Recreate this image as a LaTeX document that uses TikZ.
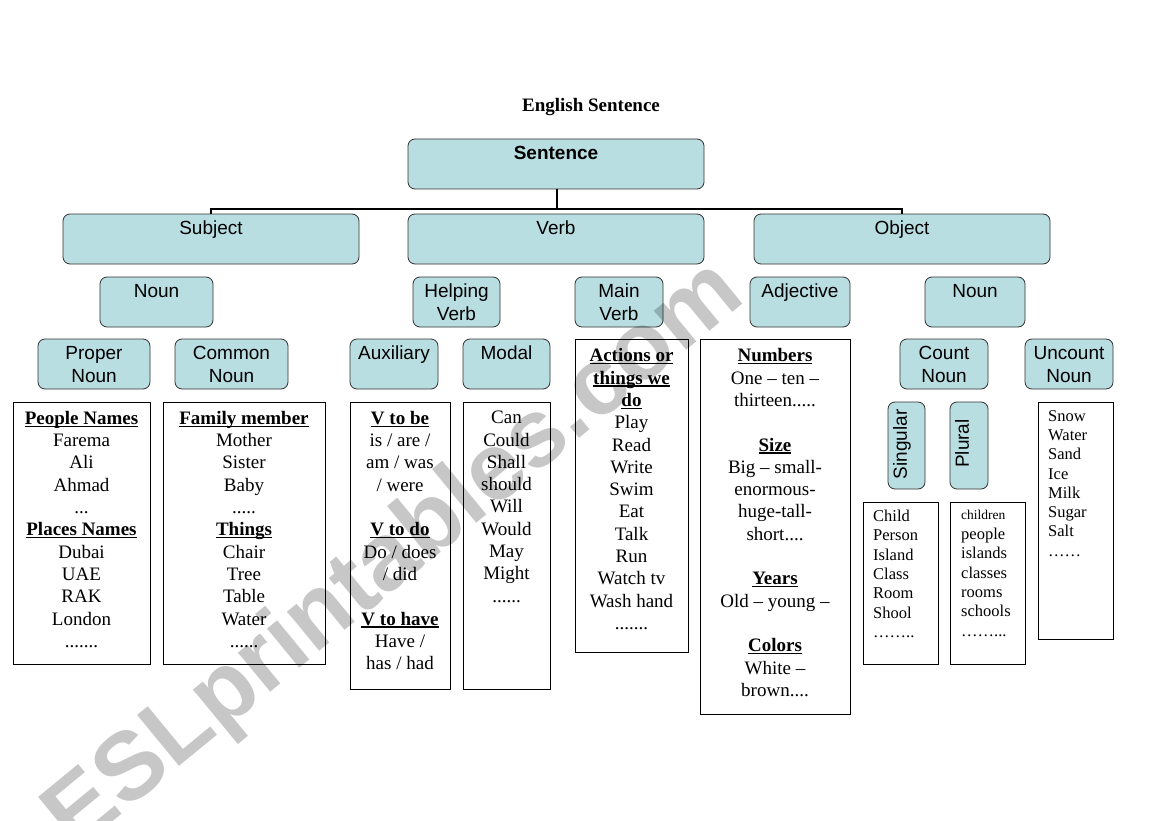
\documentclass[tikz,border=0pt]{standalone}
\usepackage{fontspec}
\setmainfont{Liberation Serif}
\setsansfont{Liberation Sans}
\definecolor{boxblue}{RGB}{185,222,226}
\definecolor{edge}{RGB}{50,50,50}
\newcommand\ulb[1]{\setbox0\hbox{#1}\rlap{\rule[-2.6pt]{\wd0}{1.3pt}}\box0}
\newcommand\mkbox[6]{\node[#1, minimum width={(#5)-(#3)}, minimum height={(#6)-(#4)}] (#2) at (#3,-#4) {};}
\tikzset{
  bluebox/.style={draw=edge, line width=0.8pt, fill=boxblue, rounded corners=7pt, inner sep=0pt, outer sep=0pt, anchor=north west},
  listbox/.style={draw=black, line width=0.8pt, inner sep=0pt, outer sep=0pt, anchor=north west},
  btext/.style={anchor=north, align=center, inner sep=0pt, font=\sffamily\fontsize{19}{23}\selectfont},
  ltext/.style={anchor=north, align=center, inner sep=0pt, font=\fontsize{19}{22.3}\selectfont},
  stext/.style={anchor=north west, align=left, inner sep=0pt, font=\fontsize{16.5}{19.3}\selectfont},
  rtext/.style={rotate=90, anchor=north, inner sep=0pt, font=\sffamily\fontsize{19}{23}\selectfont},
  conn/.style={line width=2.6pt, black},
  wmark/.style={rotate=39.4, inner sep=0pt, text=black, opacity=0.22, font=\sffamily\bfseries\fontsize{96}{96}\selectfont}
}
\begin{document}
\begin{tikzpicture}[x=1pt,y=1pt]
\useasboundingbox (0,0) rectangle (1169,-821);
\clip (0,0) rectangle (1169,-821);
\fill[white] (0,0) rectangle (1169,-821);

\node[inner sep=0pt, font=\bfseries\fontsize{19}{22}\selectfont] (title) at (591,-107) {English Sentence};

% blue boxes
\mkbox{bluebox}{sent}{408}{139}{704}{189}
\mkbox{bluebox}{subj}{63}{214}{359}{264}
\mkbox{bluebox}{verb}{408}{214}{704}{264}
\mkbox{bluebox}{obj}{754}{214}{1050}{264}
\mkbox{bluebox}{nounA}{100}{277}{213}{327}
\mkbox{bluebox}{help}{413}{277}{500}{327}
\mkbox{bluebox}{mainv}{575}{277}{663}{327}
\mkbox{bluebox}{adj}{750}{277}{850}{327}
\mkbox{bluebox}{nounB}{925}{277}{1025}{327}
\mkbox{bluebox}{proper}{38}{339}{150}{389}
\mkbox{bluebox}{common}{175}{339}{288}{389}
\mkbox{bluebox}{aux}{350}{339}{438}{389}
\mkbox{bluebox}{modal}{463}{339}{550}{389}
\mkbox{bluebox}{count}{900}{339}{988}{389}
\mkbox{bluebox}{uncount}{1025}{339}{1113}{389}
\mkbox{bluebox}{sing}{888}{402}{925}{489}
\mkbox{bluebox}{plur}{950}{402}{988}{489}

\node[btext] (sent-t) at ([yshift=-7pt]sent.north) {\bfseries Sentence};
\node[btext] (subj-t) at ([yshift=-7pt]subj.north) {Subject};
\node[btext] (verb-t) at ([yshift=-7pt]verb.north) {Verb};
\node[btext] (obj-t) at ([yshift=-7pt]obj.north) {Object};
\node[btext] (nounA-t) at ([yshift=-7pt]nounA.north) {Noun};
\node[btext] (help-t) at ([yshift=-7pt]help.north) {Helping\\Verb};
\node[btext] (mainv-t) at ([yshift=-7pt]mainv.north) {Main\\Verb};
\node[btext] (adj-t) at ([yshift=-7pt]adj.north) {Adjective};
\node[btext] (nounB-t) at ([yshift=-7pt]nounB.north) {Noun};
\node[btext] (proper-t) at ([yshift=-7pt]proper.north) {Proper\\Noun};
\node[btext] (common-t) at ([yshift=-7pt]common.north) {Common\\Noun};
\node[btext] (aux-t) at ([yshift=-7pt]aux.north) {Auxiliary};
\node[btext] (modal-t) at ([yshift=-7pt]modal.north) {Modal};
\node[btext] (count-t) at ([yshift=-7pt]count.north) {Count\\Noun};
\node[btext] (uncount-t) at ([yshift=-7pt]uncount.north) {Uncount\\Noun};
\node[rtext] (sing-t) at ([xshift=5pt,yshift=1pt]sing.west) {Singular};
\node[rtext] (plur-t) at ([xshift=5pt,yshift=2pt]plur.west) {Plural};

% connectors
\coordinate (hub) at (557,-209);
\draw[conn] (sent.south -| hub) -- (hub);
\draw[conn] (subj.north) -- (subj.north |- hub) -- (obj.north |- hub) -- (obj.north);

% list boxes
\mkbox{listbox}{people}{13}{402}{150}{664}
\mkbox{listbox}{family}{163}{402}{325}{664}
\mkbox{listbox}{tobe}{350}{402}{450}{689}
\mkbox{listbox}{modals}{463}{402}{550}{689}
\mkbox{listbox}{actions}{575}{339}{688}{652}
\mkbox{listbox}{numbers}{700}{339}{850}{714}
\mkbox{listbox}{childbox}{863}{502}{938}{664}
\mkbox{listbox}{pluralbox}{950}{502}{1025}{664}
\mkbox{listbox}{snowbox}{1038}{402}{1113}{639}

\node[ltext] (people-t) at ([yshift=-9pt]people.north) {\ulb{\bfseries People Names}\\Farema\\Ali\\Ahmad\\...\\\ulb{\bfseries Places Names}\\Dubai\\UAE\\RAK\\London\\.......};
\node[ltext] (family-t) at ([yshift=-9pt]family.north) {\ulb{\bfseries Family member}\\Mother\\Sister\\Baby\\.....\\\ulb{\bfseries Things}\\Chair\\Tree\\Table\\Water\\......};
\node[ltext] (tobe-t) at ([yshift=-9pt]tobe.north) {\ulb{\bfseries V to be}\\is / are /\\am / was\\/ were\\[22.3pt]\ulb{\bfseries V to do}\\Do / does\\/ did\\[22.3pt]\ulb{\bfseries V to have}\\Have /\\has / had};
\node[ltext] (modals-t) at ([yshift=-9pt]modals.north) {Can\\Could\\Shall\\should\\Will\\Would\\May\\Might\\......};
\node[ltext] (actions-t) at ([yshift=-9.5pt]actions.north) {\ulb{\bfseries Actions or}\\\ulb{\bfseries things we}\\\ulb{\bfseries do}\\Play\\Read\\Write\\Swim\\Eat\\Talk\\Run\\Watch tv\\Wash hand\\.......};
\node[ltext] (numbers-t) at ([yshift=-9.5pt]numbers.north) {\ulb{\bfseries Numbers}\\One – ten –\\thirteen.....\\[22.3pt]\ulb{\bfseries Size}\\Big – small-\\enormous-\\huge-tall-\\short....\\[22.3pt]\ulb{\bfseries Years}\\Old – young –\\[22.3pt]\ulb{\bfseries Colors}\\White –\\brown....};

\node[stext] (child-t) at (873,-510) {Child\\Person\\Island\\Class\\Room\\Shool\\……..};
\node[stext, font=\fontsize{13.5}{16}\selectfont] (plurA-t) at (961,-509.5) {children};
\node[stext] (plurB-t) at (961,-528) {people\\islands\\classes\\rooms\\schools\\……...};
\node[stext] (snow-t) at (1048,-410) {Snow\\Water\\Sand\\Ice\\Milk\\Sugar\\Salt\\……};

% watermark
\node[wmark] (wm) at (396,-557) {ESLprintables.com};
\end{tikzpicture}
\end{document}
